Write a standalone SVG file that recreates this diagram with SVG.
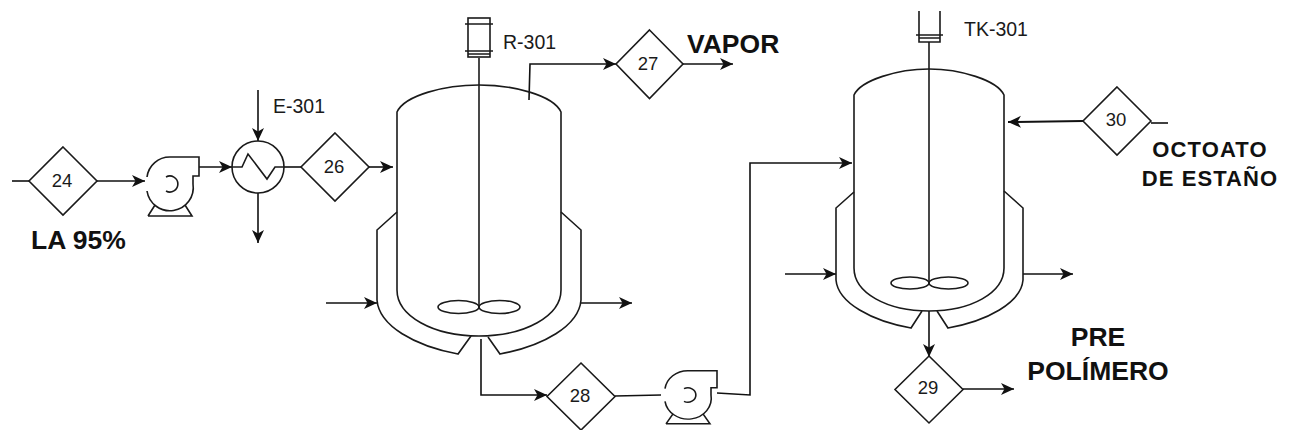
<svg xmlns="http://www.w3.org/2000/svg" width="1290" height="430" viewBox="0 0 1290 430">
<style>
.s{fill:none;stroke:#1a1a1a;stroke-width:1.6}
.d{fill:#fff;stroke:#1a1a1a;stroke-width:1.6}
.c{fill:none;stroke:#111;stroke-width:1.6}
.a{marker-end:url(#ah)}
text{font-family:"Liberation Sans",Arial,sans-serif;fill:#1a1a1a}
.n{font-size:18.5px;text-anchor:middle;dominant-baseline:central}
.l{font-size:19.5px}
.b{font-weight:bold;font-size:26.5px;fill:#111}
.o{font-weight:bold;font-size:22px;fill:#111;text-anchor:middle;letter-spacing:1.1px}
</style>
<defs>
<marker id="ah" markerUnits="userSpaceOnUse" markerWidth="14" markerHeight="14" refX="13" refY="7" orient="auto"><path d="M0 1 L13 7 L0 13 L3.5 7 Z" fill="#111"/></marker>
<g id="pump"><path class="s" d="M-23 -7 A23 23 0 0 1 0 -27 H29 V-8 H23 V0 A23 23 0 0 1 -23 7"/><path class="s" d="M-4 -7 A8 8 0 1 1 -4 7"/><path class="s" d="M-22 32 H22 L15 21 M-22 32 L-15 21"/></g>
</defs>
<g id="connectors">
<path class="c" d="M12 181 H29"/>
<path class="c a" d="M97 181 H145"/>
<path class="c a" d="M199 167 H232"/>
<path class="c a" d="M258 90 V141"/>
<path class="c a" d="M258 193 V243"/>
<path class="c" d="M284 167 H302"/>
<path class="c a" d="M368 167 H393"/>
<path class="c a" d="M529 100 L530 64 H616"/>
<path class="c a" d="M683 64 H733"/>
<path class="c a" d="M326 303 H377"/>
<path class="c a" d="M581 303 H632"/>
<path class="c a" d="M481 339 V395 H547"/>
<path class="c" d="M615 396 L661 395"/>
<path class="c a" d="M717 393 L750 395 V163 H852"/>
<path class="c a" d="M785 274 H836"/>
<path class="c a" d="M1023 274 H1073"/>
<path class="c a" d="M929 311 V357"/>
<path class="c a" d="M963 389 H1014"/>
<path class="c a" style="stroke-width:2" d="M1083 121 L1008 122"/>
<path class="c" d="M1151 123 H1168"/>
</g>
<g id="P-1"><use href="#pump" x="170" y="184"/></g>
<g id="P-2"><use href="#pump" transform="translate(688 395) scale(1 .9)"/></g>
<g id="E-301">
<circle class="s" cx="258" cy="167" r="26"/>
<path class="s" d="M232 167 H242 L248 154 L267 179 L275 167 H284"/>
<text class="l" x="273" y="113">E-301</text>
</g>
<g id="R-301">
<path class="s" d="M397 112 C405 95 445 85 479 85 C513 85 553 95 561 112 V290 C561 316 525 336 479 336 C433 336 397 316 397 290 Z"/>
<path class="s" d="M397 212 L377 230 V300 C379 326 415 346 458 354 L471 336"/>
<path class="s" d="M561 212 L581 230 V300 C579 326 543 346 500 354 L488 337"/>
<path class="s" d="M479 58 V307"/>
<ellipse class="s" cx="458.500" cy="307" rx="20.500" ry="6.500"/>
<ellipse class="s" cx="499.500" cy="307" rx="20.500" ry="6.500"/>
<rect class="s" x="468" y="18" width="22" height="39"/>
<path class="s" d="M465 24 H493 M465 51 H493 M468 54 H490"/>
<text class="l" x="503" y="49">R-301</text>
</g>
<g id="TK-301">
<path class="s" d="M854 95 C861 80 898 69 929 69 C960 69 997 80 1004 95 V268 C1004 293 971 311 929 311 C887 311 854 293 854 268 Z"/>
<path class="s" d="M854 192 L836 208 V280 C838 303 872 321 911 328 L922 311"/>
<path class="s" d="M1004 191 L1023 208 V280 C1021 303 987 321 948 328 L937 311"/>
<path class="s" d="M929 42 V283"/>
<ellipse class="s" cx="910" cy="283" rx="19" ry="6"/>
<ellipse class="s" cx="948.500" cy="283" rx="19.500" ry="6"/>
<path class="s" d="M919 11 V42 H940 V11 M916 35 H943 M919 38 H940"/>
<text class="l" x="964" y="36">TK-301</text>
</g>
<g id="s24"><path class="d" d="M63 147 L97 181 L63 215 L29 181 Z"/><text class="n" x="62" y="180">24</text></g>
<g id="s26"><path class="d" d="M335 133 L369 167 L335 201 L301 167 Z"/><text class="n" x="334" y="166">26</text></g>
<g id="s27"><path class="d" d="M649.500 30 L683 64 L649.500 98.500 L616 64 Z"/><text class="n" x="648" y="63">27</text></g>
<g id="s28"><path class="d" d="M581 363 L615 396.500 L581 430 L547 396.500 Z"/><text class="n" x="580" y="395">28</text></g>
<g id="s29"><path class="d" d="M929 356 L963 389.500 L929 423 L895 389.500 Z"/><text class="n" x="928" y="387">29</text></g>
<g id="s30"><path class="d" d="M1117 87 L1151 121 L1117 155 L1083 121 Z"/><text class="n" x="1116" y="119">30</text></g>
<g id="labels">
<text class="b" x="31" y="249">LA 95%</text>
<text class="b" x="687" y="53">VAPOR</text>
<text class="o" x="1210" y="157">OCTOATO</text>
<text class="o" x="1210" y="186">DE ESTAÑO</text>
<text class="b" x="1098" y="346" text-anchor="middle">PRE</text>
<text class="b" x="1098" y="380" text-anchor="middle">POLÍMERO</text>
</g>
</svg>
